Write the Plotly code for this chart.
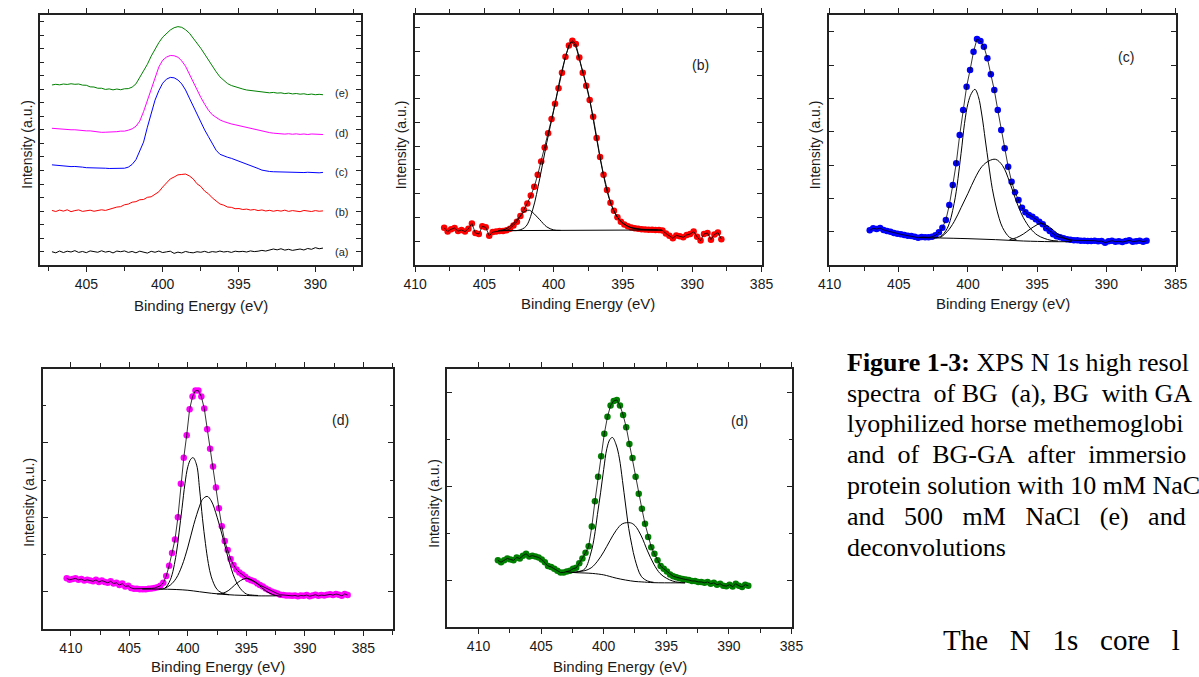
import numpy as np
import plotly.graph_objects as go

W, H = 1199, 677
STEP = 0.25  # eV sampling step of the spectra

# ---------------- Panel 1: stacked N 1s spectra (a)-(e) ----------------
stack_start = 407.25
spec_a = [0.00, -0.08, 0.05, -0.06, 0.04, -0.02, 0.08, -0.05, 0.02, -0.07,
          0.06, 0.01, -0.04, 0.07, -0.03, 0.03, -0.09, 0.05, 0.00, 0.06,
          -0.05, 0.02, -0.08, 0.04, -0.02, -0.10, 0.03, -0.04, 0.05, -0.06,
          -0.01, 0.04, -0.12, -0.03, -0.09, 0.02, -0.05, -0.08, 0.00, -0.04,
          0.03, -0.06, 0.01, -0.03, 0.05, -0.02, 0.02, -0.05, 0.04, 0.00,
          0.03, -0.02, 0.06, 0.01, 0.04, 0.10, 0.05, 0.12, 0.20, 0.14,
          0.22, 0.12, 0.18, 0.10, 0.15, 0.20, 0.13, 0.24, 0.18, 0.30,
          0.22, 0.27]
spec_b = [3.05, 2.97, 3.08, 3.00, 3.10, 2.96, 3.04, 3.09, 2.98, 3.03,
          3.07, 2.99, 3.04, 3.10, 3.05, 3.14, 3.18, 3.30, 3.33, 3.47,
          3.52, 3.66, 3.70, 3.84, 3.86, 4.02, 4.06, 4.22, 4.43, 4.78,
          5.08, 5.38, 5.52, 5.68, 5.71, 5.74, 5.60, 5.38, 5.02, 4.82,
          4.48, 4.28, 3.98, 3.77, 3.53, 3.44, 3.30, 3.28, 3.18, 3.19,
          3.12, 3.15, 3.08, 3.12, 3.04, 3.09, 3.01, 3.06, 2.99, 3.05,
          3.00, 3.07, 2.98, 3.04, 3.01, 2.96, 3.05, 3.00, 2.97, 3.04,
          2.99, 3.02]
spec_c = [6.42, 6.39, 6.40, 6.35, 6.34, 6.29, 6.30, 6.25, 6.25, 6.21,
          6.21, 6.18, 6.19, 6.16, 6.17, 6.15, 6.16, 6.14, 6.17, 6.17,
          6.25, 6.45, 6.80, 7.40, 8.10, 9.20, 10.30, 11.20, 11.90, 12.45,
          12.75, 12.88, 12.85, 12.69, 12.40, 11.95, 11.35, 10.75, 10.15, 9.60,
          9.00, 8.50, 8.00, 7.50, 7.20, 7.07, 6.98, 6.90, 6.80, 6.70,
          6.60, 6.50, 6.38, 6.26, 6.15, 6.03, 5.96, 5.93, 5.91, 5.90,
          5.88, 5.91, 5.87, 5.89, 5.86, 5.88, 5.85, 5.87, 5.84, 5.86,
          5.83, 5.86]
spec_d = [9.12, 9.09, 9.10, 9.05, 9.05, 9.01, 9.01, 8.97, 8.97, 8.93,
          8.93, 8.89, 8.87, 8.82, 8.83, 8.83, 8.87, 8.87, 8.91, 8.91,
          8.98, 9.08, 9.27, 9.65, 10.35, 11.20, 12.05, 12.93, 13.65, 14.15,
          14.38, 14.50, 14.48, 14.37, 14.10, 13.70, 13.10, 12.50, 11.90, 11.40,
          10.90, 10.45, 10.12, 9.90, 9.74, 9.62, 9.52, 9.44, 9.38, 9.31,
          9.25, 9.19, 9.12, 9.05, 8.98, 8.92, 8.86, 8.80, 8.76, 8.73,
          8.72, 8.69, 8.72, 8.68, 8.71, 8.67, 8.70, 8.66, 8.70, 8.67,
          8.69, 8.66]
spec_e = [12.32, 12.37, 12.33, 12.39, 12.36, 12.41, 12.37, 12.39, 12.31, 12.30,
          12.18, 12.17, 12.08, 12.08, 11.99, 12.03, 11.96, 12.02, 11.97, 12.04,
          12.05, 12.16, 12.40, 12.85, 13.35, 13.85, 14.45, 14.98, 15.45, 15.85,
          16.13, 16.38, 16.55, 16.63, 16.58, 16.40, 16.15, 15.80, 15.42, 15.03,
          14.60, 14.15, 13.72, 13.30, 12.92, 12.65, 12.42, 12.28, 12.18, 12.10,
          12.02, 11.95, 11.92, 11.84, 11.85, 11.78, 11.80, 11.74, 11.77, 11.72,
          11.74, 11.68, 11.72, 11.66, 11.69, 11.64, 11.67, 11.61, 11.65, 11.60,
          11.63, 11.60]
stack_labels = ['(a)', '(b)', '(c)', '(d)', '(e)']
stack_label_y = [-0.04, 2.96, 5.87, 8.80, 11.75]
stack_label_x = 388.27
stack_colors = ['#000000', '#FF0000', '#0000FF', '#FF00FF', '#008000']

# ---------------- Panel 2: (b) with deconvolution ----------------
b_start = 407.9
b_data = [0.56, 0.40, 0.50, 0.55, 0.42, 0.47, 0.40, 0.52, 0.74, 0.34,
          0.30, 0.62, 0.58, 0.22, 0.38, 0.40, 0.42, 0.43, 0.46, 0.52,
          0.66, 0.82, 1.06, 1.32, 1.59, 1.92, 2.29, 2.80, 3.36, 3.95,
          4.55, 5.15, 5.80, 6.45, 7.10, 7.78, 8.25, 8.45, 8.32, 7.75,
          7.10, 6.55, 5.95, 5.25, 4.35, 3.55, 2.80, 2.15, 1.62, 1.28,
          1.00, 0.82, 0.70, 0.62, 0.57, 0.54, 0.52, 0.50, 0.49, 0.48,
          0.48, 0.47, 0.47, 0.45, 0.32, 0.22, 0.12, 0.24, 0.20, 0.16,
          0.26, 0.30, 0.40, 0.18, 0.02, 0.30, 0.34, 0.06, 0.28, 0.36,
          0.08]
b_base_x = [403.8, 392.2]
b_base_y = [0.44, 0.47]
b_p1_x = [404.0, 403.5, 403.0, 402.5, 402.0, 401.75, 401.5, 401.0, 400.5, 400.0, 399.5]
b_p1_y = [0.44, 0.50, 0.70, 1.00, 1.28, 1.30, 1.20, 0.90, 0.60, 0.47, 0.45]
b_p2_x = [403.0, 402.5, 402.0, 401.5, 401.0, 400.5, 400.0, 399.5, 399.0, 398.75, 398.5,
          398.0, 397.5, 397.0, 396.5, 396.0, 395.5, 395.0, 394.5, 394.0, 393.5, 393.0, 392.5]
b_p2_y = [0.44, 0.46, 0.62, 1.35, 2.65, 4.15, 5.50, 6.95, 8.05, 8.40, 8.30,
          7.35, 6.25, 4.65, 3.05, 1.80, 1.10, 0.75, 0.58, 0.51, 0.48, 0.47, 0.47]

# ---------------- Panel 3: (c) with deconvolution ----------------
c_start = 407.1
c_data = [0.04, 0.10, 0.08, 0.11, 0.05, 0.02, 0.00, -0.04, -0.06, -0.08,
          -0.10, -0.12, -0.13, -0.15, -0.18, -0.16, -0.17, -0.17, -0.15, -0.11,
          -0.02, 0.12, 0.35, 0.80, 1.40, 2.05, 2.90, 3.65, 4.35, 4.85,
          5.40, 5.78, 5.72, 5.55, 5.20, 4.72, 4.25, 3.65, 3.05, 2.50,
          1.95, 1.50, 1.18, 0.95, 0.72, 0.58, 0.50, 0.45, 0.37, 0.30,
          0.22, 0.10, 0.02, -0.08, -0.14, -0.17, -0.20, -0.23, -0.24, -0.26,
          -0.26, -0.27, -0.27, -0.28, -0.28, -0.27, -0.29, -0.28, -0.33, -0.29,
          -0.27, -0.30, -0.29, -0.31, -0.28, -0.26, -0.30, -0.29, -0.27, -0.30,
          -0.27]
c_base_x = [403.5, 402.0, 400.0, 398.0, 396.0, 394.0, 392.5]
c_base_y = [-0.18, -0.19, -0.21, -0.24, -0.28, -0.30, -0.30]
c_p1_x = [402.5, 402.0, 401.5, 401.0, 400.5, 400.25, 400.0, 399.75, 399.5, 399.25,
          399.0, 398.75, 398.5, 398.25, 398.0, 397.75, 397.5, 397.0, 396.5]
c_p1_y = [-0.19, -0.15, 0.10, 0.85, 2.35, 3.25, 3.85, 4.15, 4.27, 4.05,
          3.50, 2.75, 2.00, 1.30, 0.80, 0.40, 0.12, -0.17, -0.24]
c_p2_x = [402.0, 401.5, 401.0, 400.5, 400.0, 399.5, 399.0, 398.5, 398.0, 397.5,
          397.0, 396.5, 396.0, 395.5, 395.0, 394.5, 394.0, 393.5]
c_p2_y = [-0.18, 0.00, 0.30, 0.72, 1.15, 1.60, 1.95, 2.12, 2.17, 1.98,
          1.50, 0.90, 0.42, 0.10, -0.10, -0.20, -0.26, -0.28]
c_p3_x = [397.0, 396.5, 396.0, 395.5, 395.0, 394.75, 394.5, 394.0, 393.5, 393.0, 392.5]
c_p3_y = [-0.24, -0.18, -0.07, 0.08, 0.21, 0.25, 0.23, 0.10, -0.07, -0.20, -0.27]

# ---------------- Panel 4: (d) magenta with deconvolution ----------------
d_start = 410.35
d_data = [0.18, 0.16, 0.17, 0.18, 0.16, 0.17, 0.15, 0.16, 0.15, 0.14,
          0.16, 0.13, 0.15, 0.13, 0.12, 0.14, 0.11, 0.12, 0.09, 0.11,
          0.07, 0.08, 0.05, 0.04, 0.04, 0.035, 0.035, 0.035, 0.04, 0.045,
          0.05, 0.06, 0.08, 0.12, 0.21, 0.35, 0.52, 0.70, 1.00, 1.45,
          1.80, 2.10, 2.45, 2.62, 2.70, 2.70, 2.62, 2.46, 2.18, 1.92,
          1.68, 1.40, 1.12, 0.88, 0.68, 0.56, 0.44, 0.36, 0.30, 0.26,
          0.23, 0.20, 0.17, 0.155, 0.14, 0.115, 0.09, 0.07, 0.045, 0.025,
          0.005, -0.01, -0.025, -0.04, -0.045, -0.05, -0.05, -0.055, -0.05, -0.06,
          -0.05, -0.055, -0.045, -0.06, -0.05, -0.04, -0.055, -0.045, -0.05, -0.04,
          -0.035, -0.045, -0.03, -0.04, -0.055, -0.03, -0.045]
d_base_x = [403.9, 402.5, 401.0, 400.0, 399.0, 398.0, 397.0, 396.0, 395.0, 394.0, 392.5]
d_base_y = [0.036, 0.036, 0.03, 0.02, 0.0, -0.02, -0.035, -0.045, -0.05, -0.055, -0.055]
d_p1_x = [402.5, 402.0, 401.5, 401.0, 400.75, 400.5, 400.25, 400.0, 399.75, 399.55,
          399.25, 399.0, 398.75, 398.5, 398.25, 398.0, 397.5, 397.0, 396.5]
d_p1_y = [0.036, 0.045, 0.16, 0.50, 0.80, 1.12, 1.45, 1.68, 1.78, 1.80,
          1.70, 1.38, 0.98, 0.65, 0.38, 0.20, 0.03, -0.02, -0.04]
d_p2_x = [402.0, 401.5, 401.0, 400.5, 400.0, 399.5, 399.0, 398.75, 398.35, 398.0,
          397.5, 397.0, 396.5, 396.0, 395.5, 395.0, 394.5, 394.0]
d_p2_y = [0.045, 0.09, 0.18, 0.35, 0.60, 0.90, 1.15, 1.24, 1.28, 1.22,
          1.00, 0.72, 0.42, 0.18, 0.04, -0.03, -0.045, -0.05]
d_p3_x = [397.5, 397.0, 396.5, 396.0, 395.5, 395.0, 394.5, 394.0, 393.5, 393.0, 392.5, 392.0]
d_p3_y = [-0.03, -0.02, 0.02, 0.09, 0.15, 0.18, 0.155, 0.10, 0.03, -0.02, -0.05, -0.06]

# ---------------- Panel 5: (d) green with deconvolution ----------------
e_start = 408.45
e_data = [0.21, 0.19, 0.21, 0.23, 0.22, 0.21, 0.24, 0.23, 0.26, 0.28,
          0.25, 0.26, 0.25, 0.24, 0.22, 0.19, 0.15, 0.14, 0.12, 0.10,
          0.08, 0.08, 0.09, 0.10, 0.12, 0.13, 0.18, 0.23, 0.29, 0.36,
          0.57, 0.84, 1.10, 1.32, 1.56, 1.74, 1.86, 1.91, 1.92, 1.86,
          1.76, 1.63, 1.45, 1.30, 1.10, 0.92, 0.76, 0.60, 0.46, 0.35,
          0.28, 0.21, 0.15, 0.12, 0.09, 0.06, 0.04, 0.03, 0.02, 0.01,
          0.005, 0.00, -0.01, -0.01, -0.02, -0.02, -0.03, -0.02, -0.04, -0.03,
          -0.05, -0.04, -0.06, -0.065, -0.05, -0.07, -0.04, -0.06, -0.075, -0.05,
          -0.06]
e_base_x = [403.0, 402.43, 401.5, 400.87, 400.0, 399.56, 399.0, 398.26, 397.5, 396.95, 396.0, 394.3, 393.5]
e_base_y = [0.09, 0.08, 0.075, 0.07, 0.055, 0.04, 0.02, 0.0, -0.015, -0.02, -0.028, -0.03, -0.03]
e_p1_x = [402.5, 402.0, 401.5, 401.0, 400.75, 400.5, 400.25, 400.0, 399.75, 399.5, 399.3,
          399.0, 398.75, 398.5, 398.25, 398.0, 397.75, 397.5, 397.0, 396.5, 396.0]
e_p1_y = [0.08, 0.09, 0.12, 0.30, 0.46, 0.70, 0.93, 1.18, 1.40, 1.50, 1.52,
          1.44, 1.30, 1.06, 0.80, 0.55, 0.37, 0.22, 0.04, -0.01, -0.025]
e_p2_x = [402.5, 402.0, 401.5, 401.0, 400.5, 400.0, 399.5, 399.0, 398.5, 397.87,
          397.5, 397.0, 396.5, 396.0, 395.5, 395.0, 394.5, 394.0, 393.5]
e_p2_y = [0.08, 0.09, 0.10, 0.13, 0.20, 0.30, 0.42, 0.53, 0.60, 0.61,
          0.58, 0.47, 0.31, 0.17, 0.07, 0.02, -0.01, -0.025, -0.03]

# caption text as visible in the (cropped) page
caption_lines = [
    "<b>Figure 1-3:</b> XPS N 1s high resol",
    "spectra\u00a0 of BG\u00a0 (a), BG\u00a0 with GA",
    "lyophilized horse methemoglobi",
    "and\u00a0 of\u00a0 BG-GA\u00a0 after\u00a0 immersio",
    "protein solution with 10 mM NaC",
    "and\u00a0\u00a0 500\u00a0\u00a0 mM\u00a0\u00a0 NaCl\u00a0\u00a0 (e)\u00a0\u00a0 and",
    "deconvolutions",
]
body_text = "The\u00a0\u00a0 N\u00a0\u00a0 1s\u00a0\u00a0 core\u00a0\u00a0 l"


def grid(start, n):
    return start - STEP * np.arange(n)


# ---------------- layout geometry (pixels) ----------------
panels = {
    # name: (left, right, top, bottom, xrange, yrange)
    '1': (29.3, 357.0, 15.0, 265.0, [408.05, 387.0], [-0.98, 17.49]),
    '2': (411.7, 765.5, 15.0, 265.0, [410.02, 384.98], [-1.01, 9.54]),
    '3': (834.3, 1187.7, 15.0, 265.0, [410.02, 384.98], [-1.0, 6.5]),
    '4': (32.7, 389.3, 369.0, 629.0, [412.37, 382.49], [-0.5, 2.99]),
    '5': (445.0, 796.0, 369.0, 627.3, [412.48, 384.98], [-0.504, 2.25]),
}

AX_COL = '#222222'
TICK_FONT = dict(family='Arial, Liberation Sans, sans-serif', size=14, color='#1a1a1a')

fig = go.Figure()

layout = dict(width=W, height=H, margin=dict(l=0, r=0, t=0, b=0),
              paper_bgcolor='white', plot_bgcolor='white', showlegend=False)

for k, (l, r, t, b, xr, yr) in panels.items():
    xa = 'xaxis' if k == '1' else 'xaxis' + k
    ya = 'yaxis' if k == '1' else 'yaxis' + k
    xref = 'x' if k == '1' else 'x' + k
    yref = 'y' if k == '1' else 'y' + k
    layout[xa] = dict(domain=[l / W, r / W], range=xr, anchor=yref,
                      showgrid=False, zeroline=False, showline=True,
                      linecolor=AX_COL, linewidth=1.5, mirror='allticks',
                      ticks='outside', ticklen=5, tickwidth=1, tickcolor=AX_COL,
                      tick0=0, dtick=5, tickfont=TICK_FONT,
                      minor=dict(ticks='outside', dtick=2.5, ticklen=4, tickwidth=1, tickcolor=AX_COL))
    ydict = dict(domain=[1 - b / H, 1 - t / H], range=yr, anchor=xref,
                 showgrid=False, zeroline=False, showline=True,
                 linecolor=AX_COL, linewidth=1.5, mirror='allticks',
                 ticks='inside', ticklen=5, tickwidth=1, tickcolor=AX_COL,
                 tick0=0, dtick=1, showticklabels=False)
    if k in ('4', '5'):
        ydict['minor'] = dict(ticks='inside', dtick=0.5, ticklen=3, tickwidth=1, tickcolor=AX_COL)
    layout[ya] = ydict

fig.update_layout(**layout)


def add_line(x, y, color, xr, yr, width=1.0, shape='linear'):
    fig.add_trace(go.Scatter(x=x, y=y, mode='lines', xaxis=xr, yaxis=yr,
                             line=dict(color=color, width=width, shape=shape),
                             hoverinfo='skip'))


def add_markers(x, y, color, xr, yr):
    fig.add_trace(go.Scatter(x=x, y=y, mode='markers', xaxis=xr, yaxis=yr,
                             marker=dict(color=color, size=6.5, line=dict(width=0)),
                             hoverinfo='skip'))


# Panel 1
for spec, col in zip([spec_a, spec_b, spec_c, spec_d, spec_e], stack_colors):
    add_line(grid(stack_start, len(spec)), spec, col, 'x', 'y', width=1.0)

# Panels 2-5
fits = [
    ('2', b_start, b_data, '#FF0000', [(b_base_x, b_base_y), (b_p1_x, b_p1_y), (b_p2_x, b_p2_y)]),
    ('3', c_start, c_data, '#0000FF', [(c_base_x, c_base_y), (c_p1_x, c_p1_y), (c_p2_x, c_p2_y), (c_p3_x, c_p3_y)]),
    ('4', d_start, d_data, '#FF00FF', [(d_base_x, d_base_y), (d_p1_x, d_p1_y), (d_p2_x, d_p2_y), (d_p3_x, d_p3_y)]),
    ('5', e_start, e_data, '#008000', [(e_base_x, e_base_y), (e_p1_x, e_p1_y), (e_p2_x, e_p2_y)]),
]
for k, start, data, col, comps in fits:
    xr, yr = 'x' + k, 'y' + k
    ex = grid(start, len(data))
    add_markers(ex, data, col, xr, yr)
    add_line(ex, data, '#000000', xr, yr, width=0.8)
    for cx, cy in comps:
        add_line(cx, cy, '#000000', xr, yr, width=1.0, shape='spline')

ann = []
SANS = 'Arial, Liberation Sans, sans-serif'
for lab, ly in zip(stack_labels, stack_label_y):
    ann.append(dict(x=stack_label_x, y=ly, xref='x', yref='y', text=lab, showarrow=False,
                    font=dict(family=SANS, size=11, color='#222')))
panel_labels = [('x2', 'y2', 389.43, 7.43, '(b)'), ('x3', 'y3', 388.6, 5.25, '(c)'),
                ('x4', 'y4', 386.96, 2.30, '(d)'), ('x5', 'y5', 389.12, 1.70, '(d)')]
for xr, yr, lx, ly, lab in panel_labels:
    ann.append(dict(x=lx, y=ly, xref=xr, yref=yr, text=lab, showarrow=False,
                    font=dict(family=SANS, size=14, color='#222')))

# axis titles (pixel centres converted to paper fractions)
xtitles = [(193.5, 305.0), (588.6, 303.0), (1011.0, 303.0), (211.0, 666.0), (620.5, 666.0)]
for cx, cy in xtitles:
    ann.append(dict(x=cx / W, y=1 - cy / H, xref='paper', yref='paper', text='Binding Energy (eV)',
                    showarrow=False, xanchor='center', yanchor='middle',
                    font=dict(family=SANS, size=15, color='#1a1a1a')))
ytitles = [(16.0, 144.0), (398.0, 145.0), (820.0, 145.0), (18.0, 502.0), (431.0, 503.0)]
for cx, cy in ytitles:
    ann.append(dict(x=cx / W, y=1 - cy / H, xref='paper', yref='paper', text='Intensity (a.u.)',
                    showarrow=False, xanchor='center', yanchor='middle', textangle=-90,
                    font=dict(family=SANS, size=14, color='#1a1a1a')))

SERIF = 'Liberation Serif, Times New Roman, serif'
cap_centres = [362.7, 393.7, 424.0, 454.5, 485.5, 516.0, 547.0]
for txt, cy in zip(caption_lines, cap_centres):
    ann.append(dict(x=850.7 / W, y=1 - cy / H, xref='paper', yref='paper', text=txt,
                    showarrow=False, xanchor='left', yanchor='middle', align='left',
                    font=dict(family=SERIF, size=26, color='#000')))
ann.append(dict(x=948.0 / W, y=1 - 640.0 / H, xref='paper', yref='paper', text=body_text,
                showarrow=False, xanchor='left', yanchor='middle', align='left',
                font=dict(family=SERIF, size=29, color='#000')))

fig.update_layout(annotations=ann)
fig.write_html('out.html')
